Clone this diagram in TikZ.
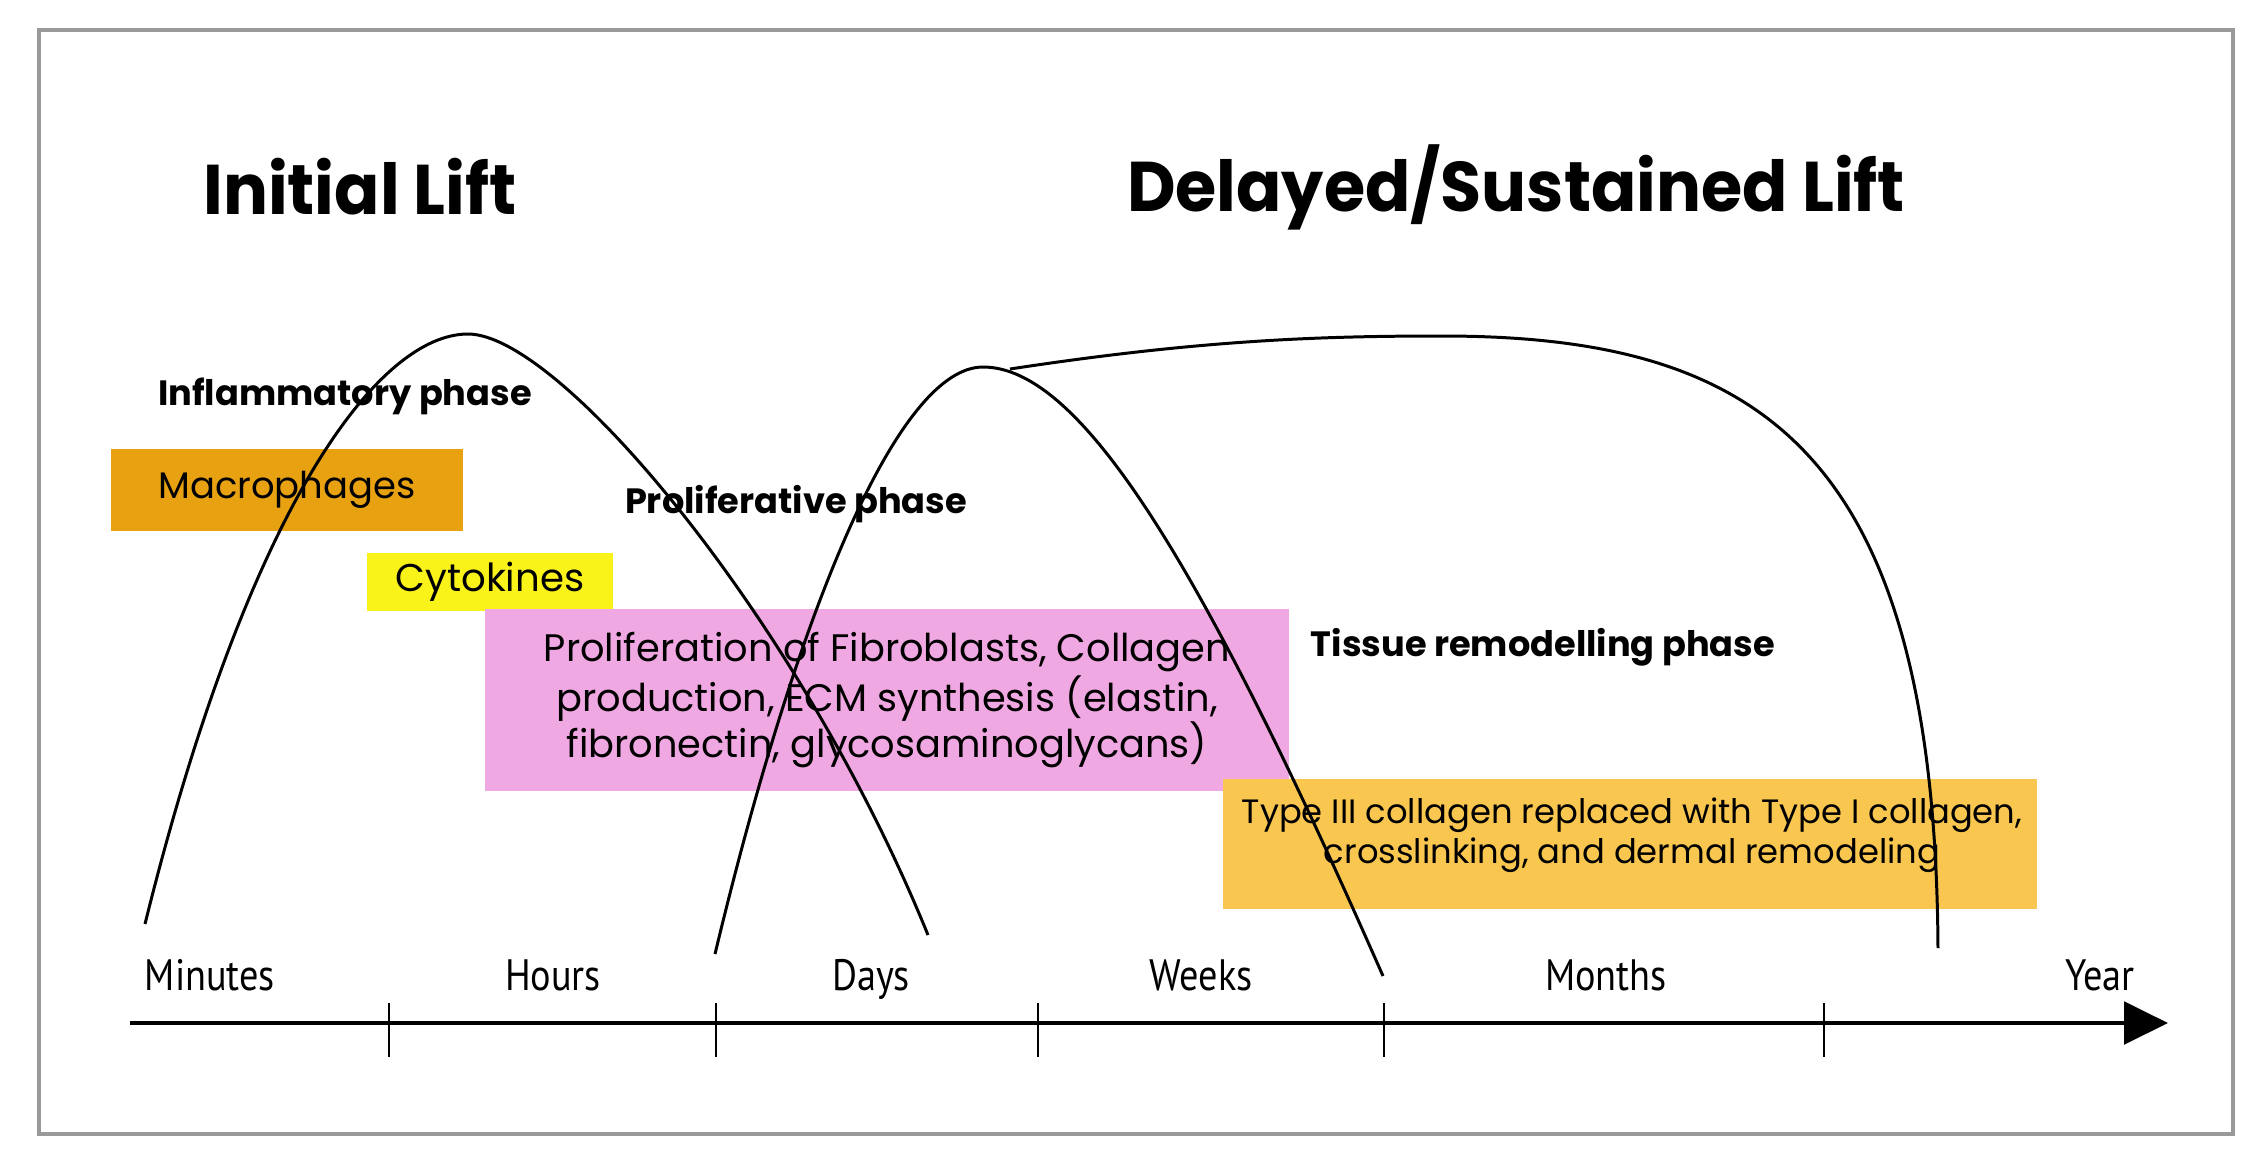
\documentclass[tikz,border=0pt]{standalone}
\usepackage{fontspec}
\setmainfont{Poppins}
\newfontfamily\liftfont[FakeStretch=0.95]{Poppins}
\newfontfamily\axisfont[FakeStretch=0.87]{PT Sans}
\usetikzlibrary{arrows.meta}
\definecolor{macrofill}{HTML}{E8A211}
\definecolor{cytofill}{HTML}{FAF31A}
\definecolor{prolfill}{HTML}{F0A8E2}
\definecolor{remodfill}{HTML}{F9C74F}
\tikzset{lift/.style={font=\liftfont\fontsize{20}{24}\selectfont\bfseries},
        phase/.style={font=\fontsize{10}{12}\selectfont\bfseries},
        cellbox/.style={inner sep=0pt,align=center,text=black},
        timelabel/.style={font=\axisfont\fontsize{12.5}{14}\selectfont,anchor=base},
        curve/.style={line width=0.85pt}}

\begin{document}
\begin{tikzpicture}[x=0.01cm,y=-0.01cm]
  \useasboundingbox (0,0) rectangle (2256,1163);
  \draw[black!40,line width=1pt] (39,30) rectangle (2233,1134);
  \node[lift] (initial) at (360,187) {Initial Lift};
  \node[lift] (delayed) at (1516,187) {Delayed/Sustained Lift};
  \node[phase] (inflam) at (345,396) {Inflammatory phase};
  \node[phase] (prolif) at (796,504) {Proliferative phase};
  \node[phase] (remod) at (1543,647) {Tissue remodelling phase};
  \node[cellbox,fill=macrofill,minimum width=3.51cm,minimum height=0.81cm,
        font=\fontsize{10.5}{13}\selectfont] (macro) at (287,490) {Macrophages};
  \node[cellbox,fill=cytofill,minimum width=2.46cm,minimum height=0.58cm,
        font=\fontsize{11}{13}\selectfont] (cyto) at (490,582) {Cytokines};
  \node[cellbox,fill=prolfill,minimum width=8.04cm,minimum height=1.81cm,
        font=\fontsize{10.9}{13.1}\selectfont] (fibro) at (887,700)
        {Proliferation of Fibroblasts, Collagen\\production, ECM synthesis (elastin,\\fibronectin, glycosaminoglycans)};
  \node[cellbox,fill=remodfill,minimum width=8.14cm,minimum height=1.29cm] (remodbox) at (1630,844) {};
  \node[cellbox,font=\fontsize{9.6}{11.4}\selectfont] (collagen) at (1632,835)
        {Type III collagen replaced with Type I collagen,\\crosslinking, and dermal remodeling};
  \draw[curve] (145,924) .. controls (250,500) and (380,334) .. (468,334)
        .. controls (560,334) and (800,620) .. (928,935);
  \draw[curve] (715,954) .. controls (800,600) and (900,367) .. (983,367)
        .. controls (1080,367) and (1200,560) .. (1383,976);
  \draw[curve] (1010,369) .. controls (1200,340) and (1320,336) .. (1442,336)
        .. controls (1760,336) and (1935,450) .. (1938,948);
  \coordinate (axstart) at (130,1023);
  \coordinate (axend) at (2168,1023);
  \draw[line width=1.4pt,-{Triangle[length=12.5pt,width=12pt]}] (axstart) -- (axend);
  \foreach \x in {389,716,1038,1384,1824}
    \draw[line width=0.6pt] (\x,1003) -- (\x,1057);
  \foreach \x/\t in {210/Minutes,553/Hours,871/Days,1201/Weeks,1606/Months,2100/Year}
    \node[timelabel] (t\t) at (\x,990) {\t};
\end{tikzpicture}
\end{document}
